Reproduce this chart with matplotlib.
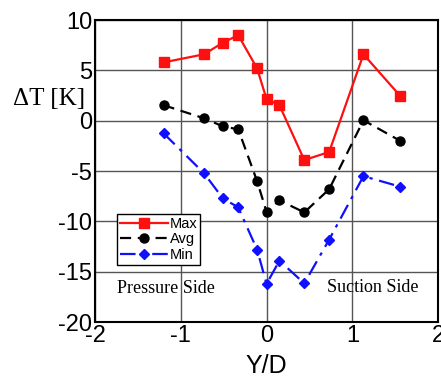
import numpy as np
import matplotlib.pyplot as plt

plt.rcParams['axes.unicode_minus'] = False

yd = [-1.2, -0.73, -0.51, -0.33, -0.11, 0.0, 0.15, 0.44, 0.73, 1.13, 1.56]
t_max = [5.8, 6.6, 7.75, 8.5, 5.2, 2.15, 1.55, -3.9, -3.1, 6.6, 2.45]
t_avg = [1.55, 0.25, -0.55, -0.85, -6.0, -9.05, -7.9, -9.1, -6.8, 0.05, -2.0]
t_min = [-1.25, -5.2, -7.7, -8.6, -12.8, -16.2, -13.9, -16.15, -11.8, -5.5, -6.55]

xticks = [-2, -1, 0, 1, 2]
yticks = [-20, -15, -10, -5, 0, 5, 10]

fig = plt.figure(figsize=(4.41, 3.79), dpi=100)
ax = fig.add_axes([0.2154, 0.150, 0.778, 0.797])

ax.plot(yd, t_max, color='#ff1010', lw=1.6, marker='s', ms=6.5, label='Max')
ax.plot(yd, t_avg, color='black', lw=1.6, ls=(0, (5, 3)), marker='o', ms=6.5, label='Avg')
ax.plot(yd, t_min, color='#1010ff', lw=1.6, ls=(0, (7, 3, 1.5, 3)), marker='D', ms=5.5, label='Min')

ax.set_xlim(-2, 2)
ax.set_ylim(-20, 10)
ax.set_xticks(xticks)
ax.set_yticks(yticks)
ax.tick_params(length=0, labelsize=17, pad=2)
for lab in ax.get_xticklabels() + ax.get_yticklabels():
    lab.set_family('Liberation Sans')
ax.grid(True, color='#555555', lw=1)
for s in ax.spines.values():
    s.set_linewidth(1.5)

ax.set_xlabel('Y/D', fontsize=18, family='Liberation Sans', labelpad=5)
fig.text(0.03, 0.74, r'ΔT [K]', fontsize=18, family='Liberation Serif', va='center')

ax.text(-1.74, -16.65, 'Pressure Side', fontsize=13, family='Liberation Serif', va='center')
ax.text(0.71, -16.55, 'Suction Side', fontsize=13, family='Liberation Serif', va='center')

leg = ax.legend(loc='upper left', bbox_to_anchor=(0.065, 0.358), fontsize=10.5,
                handlelength=3.3, fancybox=False, edgecolor='black', framealpha=1,
                borderpad=0.2, labelspacing=0.1, handletextpad=0.1, borderaxespad=0)
for t in leg.get_texts():
    t.set_family('Liberation Sans')

plt.savefig('out.png')
